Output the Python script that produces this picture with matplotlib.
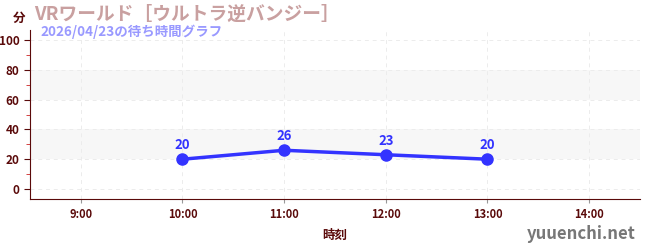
import matplotlib
matplotlib.use("Agg")
import matplotlib.pyplot as plt

plt.rcParams['font.family'] = ['Noto Sans CJK JP', 'DejaVu Sans']

# data
hours = [10, 11, 12, 13]
waits = [20, 26, 23, 20]
xticks = [9, 10, 11, 12, 13, 14]
xlabels = ['9:00', '10:00', '11:00', '12:00', '13:00', '14:00']
yticks = [0, 20, 40, 60, 80, 100]

title = 'VRワールド［ウルトラ逆バンジー］'
subtitle = '2026/04/23の待ち時間グラフ'

axis_col = '#5a0a0a'
line_col = '#3333ff'

fig = plt.figure(figsize=(6.5, 2.5), dpi=100)
ax = fig.add_axes([30/650, 1 - 199/250, 610/650, 169/250])

ax.set_xlim(8.5, 14.5)
ax.set_ylim(-6.7, 106.7)

# alternating bands
for lo, hi in [(20, 40), (60, 80)]:
    ax.axhspan(lo, hi, color='#f7f7f7', zorder=0, lw=0)

ax.set_xticks(xticks)
ax.set_xticklabels(xlabels)
ax.set_yticks(yticks)
ax.set_yticks([10, 30, 50, 70, 90], minor=True)
ax.grid(True, which='major', color='#ececec', linestyle=(0, (4, 4)), linewidth=0.7, zorder=1)

for s in ['top', 'right']:
    ax.spines[s].set_visible(False)
ax.spines['left'].set_color(axis_col)
ax.spines['bottom'].set_color(axis_col)

ax.tick_params(axis='y', which='major', colors=axis_col, labelsize=8.5, length=4)
ax.tick_params(axis='y', which='minor', color='#cc2222', length=3)
ax.tick_params(axis='x', which='major', color='#999999', labelcolor=axis_col, labelsize=8, length=3)
for lab in ax.get_xticklabels() + ax.get_yticklabels():
    lab.set_fontweight('bold')

ax.plot(hours, waits, color=line_col, linewidth=2.5, marker='o', markersize=8, zorder=3)
for h, w in zip(hours, waits):
    ax.annotate(str(w), (h, w), xytext=(0, 5), textcoords='offset points',
                ha='center', va='bottom', color=line_col, fontsize=9.5, fontweight='bold')

ax.set_xlabel('時刻', color=axis_col, fontsize=9, fontweight='bold', labelpad=6)

fig.text(13/650, 1 - 18/250, '分', color=axis_col, fontsize=9, fontweight='bold', va='center')
fig.text(34/650, 1 - 14/250, title, color='#c9a0a0', fontsize=13.5, fontweight='bold', va='center')
fig.text(40/650, 1 - 32/250, subtitle, color='#9999ff', fontsize=9.7, fontweight='bold', va='center')
fig.text(636/650, 1 - 234/250, 'yuuenchi.net', color='#777777', fontsize=12, fontweight='bold',
         ha='right', va='center')

fig.savefig('out.png', dpi=100)
